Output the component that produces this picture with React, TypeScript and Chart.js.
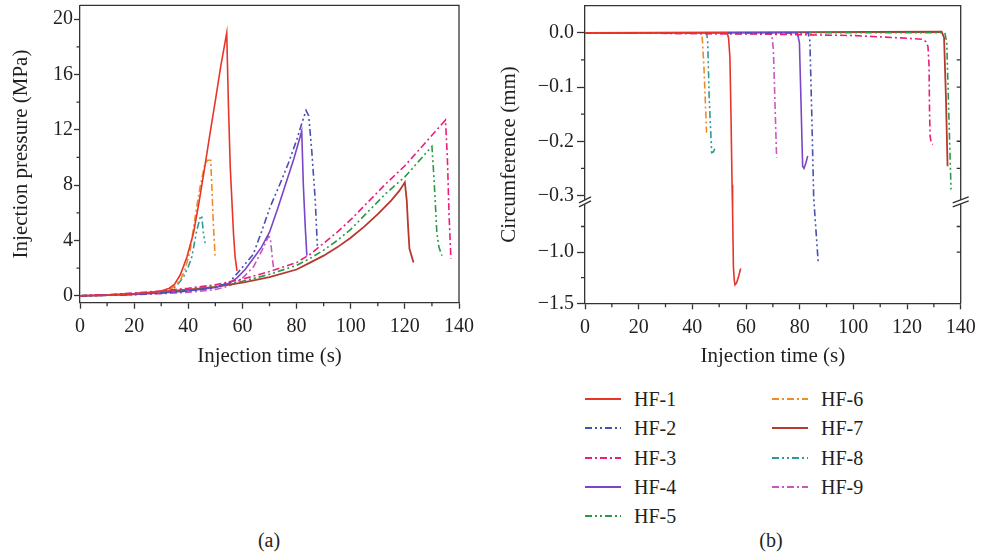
import React, { useEffect, useRef } from 'react';
import { Chart, registerables, LinearScale } from 'chart.js';

Chart.register(...registerables);

// ---------------- data ----------------
const SERIES_NAMES = ['HF-1', 'HF-2', 'HF-3', 'HF-4', 'HF-5', 'HF-6', 'HF-7', 'HF-8', 'HF-9'];

// Panel (a): injection time (s), injection pressure (MPa)
const HF1_PRESSURE = [[0, 0], [10, 0.05], [20, 0.15], [25, 0.22], [30, 0.35], [33, 0.55], [35, 0.85], [37, 1.5], [38, 2.0], [39.5, 2.8], [42, 4.6], [44, 6.8], [46, 9.2], [48, 11.7], [50, 14.1], [52, 16.6], [54.2, 19.0], [54.8, 14], [55.5, 9.3], [56.7, 4.5], [57.3, 2.8], [58, 1.8]];
const HF2_PRESSURE = [[0, 0], [10, 0.04], [20, 0.1], [30, 0.2], [40, 0.35], [50, 0.6], [55, 0.95], [58, 1.6], [61, 2.3], [64, 3.0], [67, 4.6], [70.2, 6.4], [73.9, 8.1], [77, 9.6], [80.1, 11.3], [82, 12.5], [83.5, 13.4], [84.5, 13.0], [85.6, 10.5], [86.9, 6.9], [87.7, 3.5]];
const HF3_PRESSURE = [[0, 0], [10, 0.08], [20, 0.2], [30, 0.35], [40, 0.55], [50, 0.8], [60, 1.2], [70, 1.75], [80, 2.4], [85, 3.0], [90, 3.8], [95, 4.6], [100, 5.5], [107, 6.9], [113, 8.1], [120, 9.4], [125, 10.5], [130, 11.6], [135, 12.7], [135.7, 10], [136.3, 6], [137, 2.7]];
const HF4_PRESSURE = [[0, 0], [10, 0.04], [20, 0.1], [30, 0.2], [40, 0.35], [50, 0.6], [55, 0.9], [58, 1.3], [61, 1.9], [64, 2.7], [67, 3.5], [70, 4.6], [73, 6.3], [76, 8.1], [79, 9.9], [81.9, 11.9], [82.5, 8], [83.2, 5], [83.8, 2.9]];
const HF5_PRESSURE = [[0, 0], [10, 0.05], [20, 0.15], [30, 0.3], [40, 0.45], [50, 0.7], [60, 1.05], [70, 1.55], [80, 2.2], [85, 2.7], [90, 3.3], [95, 4.0], [100, 4.8], [107, 6.2], [113, 7.4], [120, 8.6], [125, 9.7], [130, 10.8], [130.6, 9], [131.2, 6.9], [131.8, 4.6], [132.6, 3.5], [133.7, 2.9]];
const HF6_PRESSURE = [[0, 0], [10, 0.05], [20, 0.13], [30, 0.3], [34, 0.55], [37, 1.1], [39, 2.0], [40.7, 3.3], [42, 5.0], [43.1, 6.4], [44.4, 7.9], [46.2, 9.6], [47.2, 9.8], [48.3, 9.8], [48.7, 7.9], [49.3, 5.0], [49.9, 2.9]];
const HF7_PRESSURE = [[0, 0], [10, 0.05], [20, 0.15], [30, 0.3], [40, 0.45], [50, 0.65], [60, 0.95], [70, 1.35], [80, 1.9], [85, 2.4], [90, 2.9], [95, 3.5], [100, 4.2], [105, 5.0], [110, 5.9], [115, 6.9], [118, 7.6], [120, 8.2], [120.7, 6.9], [121.2, 5], [121.7, 3.4], [123.2, 2.4]];
const HF8_PRESSURE = [[0, 0], [10, 0.04], [20, 0.1], [30, 0.25], [34, 0.45], [36, 0.8], [38.2, 1.35], [40, 2.1], [41.3, 2.8], [43.1, 4.7], [44.6, 5.8], [45, 5.7], [45.6, 4.5], [46.2, 3.8]];
const HF9_PRESSURE = [[0, 0], [10, 0.03], [20, 0.08], [30, 0.15], [40, 0.25], [50, 0.45], [55, 0.7], [58, 1.0], [60.4, 1.35], [64.1, 2.1], [67.8, 3.5], [69.6, 4.3], [70.3, 4.2], [71, 2.8], [71.5, 2.0]];

// Panel (b): injection time (s), circumference (mm)
const HF1_CIRC = [[0, 0], [53, 0], [53.5, -0.01], [54, -0.045], [54.4, -0.15], [54.8, -0.28], [55, -0.6], [55.3, -1.14], [55.6, -1.27], [55.9, -1.32], [56.5, -1.3], [57.2, -1.24], [58, -1.16]];
const HF2_CIRC = [[0, 0], [83.2, 0], [83.8, -0.015], [84.5, -0.15], [85.2, -0.3], [85.3, -0.5], [86.1, -0.8], [86.9, -1.1]];
const HF3_CIRC = [[0, 0], [60, -0.002], [100, -0.005], [120, -0.01], [125.5, -0.012], [127, -0.016], [127.8, -0.025], [128.2, -0.06], [128.4, -0.15], [128.6, -0.19], [129, -0.203], [129.6, -0.206]];
const HF4_CIRC = [[0, 0], [79.1, 0], [79.9, -0.018], [80.5, -0.13], [81.1, -0.246], [81.6, -0.25], [82.3, -0.24], [83, -0.227]];
const HF5_CIRC = [[0, 0], [134.1, 0], [134.8, -0.018], [135.4, -0.12], [136.4, -0.289]];
const HF6_CIRC = [[0, 0], [43.3, 0], [43.7, -0.01], [44.3, -0.06], [45.3, -0.184]];
const HF7_CIRC = [[0, 0], [132.9, 0.002], [133.8, -0.009], [134.5, -0.12], [135.1, -0.246]];
const HF8_CIRC = [[0, 0], [45.3, 0], [45.7, -0.014], [46.3, -0.123], [47.2, -0.221], [47.8, -0.22], [48.8, -0.209]];
const HF9_CIRC = [[0, 0], [69.6, -0.002], [70.2, -0.031], [71.4, -0.23]];

const PRESSURE_SERIES = [HF1_PRESSURE, HF2_PRESSURE, HF3_PRESSURE, HF4_PRESSURE, HF5_PRESSURE, HF6_PRESSURE, HF7_PRESSURE, HF8_PRESSURE, HF9_PRESSURE];
const CIRC_SERIES = [HF1_CIRC, HF2_CIRC, HF3_CIRC, HF4_CIRC, HF5_CIRC, HF6_CIRC, HF7_CIRC, HF8_CIRC, HF9_CIRC];

// Tick labels / axis values
const X_TICKS = [0, 20, 40, 60, 80, 100, 120, 140];
const X_MINOR = [10, 30, 50, 70, 90, 110, 130];
const Y_TICKS_A = [0, 4, 8, 12, 16, 20];
const Y_MINOR_A = [2, 6, 10, 14, 18];
const Y_TICKS_B = [0, -0.1, -0.2, -0.3, -1.0, -1.5];
const Y_MINOR_B = [-0.05, -0.15, -0.25, -0.75, -1.25];
const Y_RIGHT_B = [-0.05, -0.1, -0.2, -0.25, -0.75, -1.0];
const BREAK = { upperMin: -0.31, upperMax: 0.05, lowerMin: -1.5, lowerMax: -0.5 };
const BREAK_GAP_VALUE = -0.4;

// ---------------- styles ----------------
const FONT = "'Liberation Serif', 'Times New Roman', serif";
const TEXT = '#231f20';
const AXIS = '#333333';
const AXIS_W = 1.3;
const COLORS = ['#e8352a', '#4a4fb6', '#ec1e7a', '#7a45c6', '#2a9a48', '#f28a26', '#b6392f', '#2c9c96', '#c858c0'];
const SOLID: number[] = [];
const DASH_DOT = [7, 3, 2, 3];
const DASH_DOT_DOT = [7, 3, 2, 3, 2, 3];
const DASHES = [SOLID, DASH_DOT_DOT, DASH_DOT, SOLID, DASH_DOT_DOT, DASH_DOT, SOLID, DASH_DOT_DOT, DASH_DOT];
const UPPER_SPLIT = 0.656;

// ---------------- broken scale ----------------
class BrokenLinearScale extends LinearScale {
  static id = 'brokenLinear';
  static defaults = {};
  breakPixel() {
    return this.top + (this.bottom - this.top) * UPPER_SPLIT;
  }
  getPixelForValue(value: number) {
    if (value === null || value === undefined || isNaN(value)) return NaN;
    const top = this.top;
    const bottom = this.bottom;
    const bp = this.breakPixel();
    if (value >= BREAK.upperMin) {
      return bp - ((value - BREAK.upperMin) / (BREAK.upperMax - BREAK.upperMin)) * (bp - top);
    }
    if (value <= BREAK.lowerMax) {
      return bottom - ((value - BREAK.lowerMin) / (BREAK.lowerMax - BREAK.lowerMin)) * (bottom - bp);
    }
    return bp;
  }
  getValueForPixel(pixel: number) {
    const top = this.top;
    const bottom = this.bottom;
    const bp = this.breakPixel();
    if (pixel <= bp) return BREAK.upperMin + ((bp - pixel) / (bp - top)) * (BREAK.upperMax - BREAK.upperMin);
    return BREAK.lowerMin + ((bottom - pixel) / (bottom - bp)) * (BREAK.lowerMax - BREAK.lowerMin);
  }
}
Chart.register(BrokenLinearScale as any);

// ---------------- decoration plugin ----------------
function makeDecor(cfg: { minorX: number[]; minorY: number[]; rightY: number[]; minorLen: number; breakValue?: number }) {
  return {
    id: 'decor',
    afterDraw(chart: any) {
      const { ctx, chartArea: a } = chart;
      const xs = chart.scales.x;
      const ys = chart.scales.y;
      ctx.save();
      ctx.strokeStyle = AXIS;
      ctx.lineWidth = AXIS_W;
      ctx.beginPath();
      ctx.moveTo(a.left, a.top);
      ctx.lineTo(a.right, a.top);
      ctx.lineTo(a.right, a.bottom);
      for (const v of cfg.minorX) {
        const p = xs.getPixelForValue(v);
        ctx.moveTo(p, a.bottom);
        ctx.lineTo(p, a.bottom + cfg.minorLen);
      }
      for (const v of cfg.minorY) {
        const p = ys.getPixelForValue(v);
        ctx.moveTo(a.left, p);
        ctx.lineTo(a.left - cfg.minorLen, p);
      }
      for (const v of cfg.rightY) {
        const p = ys.getPixelForValue(v);
        ctx.moveTo(a.right, p);
        ctx.lineTo(a.right - cfg.minorLen, p);
      }
      ctx.stroke();
      if (cfg.breakValue !== undefined) {
        const yc = ys.getPixelForValue(cfg.breakValue);
        const sides: [number, number][] = [[a.left, 6], [a.right, 8]];
        for (const [x0, hw] of sides) {
          ctx.beginPath();
          ctx.moveTo(x0 - hw, yc + 2);
          ctx.lineTo(x0 + hw, yc - 4);
          ctx.lineTo(x0 + hw, yc);
          ctx.lineTo(x0 - hw, yc + 6);
          ctx.closePath();
          ctx.fillStyle = '#ffffff';
          ctx.fill();
          ctx.beginPath();
          ctx.moveTo(x0 - hw, yc + 2);
          ctx.lineTo(x0 + hw, yc - 4);
          ctx.moveTo(x0 - hw, yc + 6);
          ctx.lineTo(x0 + hw, yc);
          ctx.stroke();
        }
      }
      ctx.restore();
    },
  };
}

function makeDatasets(series: number[][][]) {
  return series.map((pts, i) => ({
    label: SERIES_NAMES[i],
    data: pts.map(([x, y]) => ({ x, y })),
    borderColor: COLORS[i],
    borderWidth: i === 6 ? 1.8 : 1.6,
    borderDash: DASHES[i],
    pointRadius: 0,
    fill: false,
    tension: 0,
  }));
}

const tickFont = { family: FONT, size: 20 };
const titleFont = { family: FONT, size: 21 };

function xScale(height: number) {
  return {
    type: 'linear',
    min: 0,
    max: 140,
    afterBuildTicks: (s: any) => {
      s.ticks = X_TICKS.map((value) => ({ value }));
    },
    afterFit: (s: any) => {
      s.height = height;
      s.paddingLeft = 0;
      s.paddingRight = 0;
    },
    ticks: { font: tickFont, color: TEXT, padding: 6, maxRotation: 0, autoSkip: false, callback: (v: any) => String(v) },
    grid: { display: true, drawOnChartArea: false, drawTicks: true, tickLength: 6, tickColor: AXIS, tickWidth: AXIS_W },
    border: { display: true, color: AXIS, width: AXIS_W },
    title: { display: true, text: 'Injection time (s)', font: titleFont, color: TEXT, padding: { top: 0, bottom: 10.7 } },
  };
}

export default function App() {
  const refA = useRef<HTMLCanvasElement>(null);
  const refB = useRef<HTMLCanvasElement>(null);

  useEffect(() => {
    const common = {
      responsive: false,
      animation: false,
      devicePixelRatio: 1,
      events: [],
    };
    const chartA = new Chart(refA.current as HTMLCanvasElement, {
      type: 'line',
      data: { datasets: makeDatasets(PRESSURE_SERIES) as any },
      plugins: [makeDecor({ minorX: X_MINOR, minorY: Y_MINOR_A, rightY: [], minorLen: 3.5 }) as any],
      options: {
        ...common,
        layout: { padding: { top: 5.3, right: 31, left: 0, bottom: 0 } },
        plugins: { legend: { display: false }, tooltip: { enabled: false } },
        scales: {
          x: xScale(77.3) as any,
          y: {
            type: 'linear',
            min: -0.5,
            max: 21,
            afterBuildTicks: (s: any) => {
              s.ticks = Y_TICKS_A.map((value) => ({ value }));
            },
            afterFit: (s: any) => {
              s.width = 80;
              s.paddingTop = 0;
              s.paddingBottom = 0;
            },
            ticks: { font: tickFont, color: TEXT, padding: 1, autoSkip: false, callback: (v: any) => String(v) },
            grid: { display: true, drawOnChartArea: false, drawTicks: true, tickLength: 6, tickColor: AXIS, tickWidth: AXIS_W },
            border: { display: true, color: AXIS, width: AXIS_W },
            title: { display: true, text: 'Injection pressure (MPa)', font: titleFont, color: TEXT, padding: { top: 9, bottom: 0 } },
          } as any,
        },
      } as any,
    });

    const chartB = new Chart(refB.current as HTMLCanvasElement, {
      type: 'line',
      data: { datasets: makeDatasets(CIRC_SERIES) as any },
      plugins: [makeDecor({ minorX: X_MINOR, minorY: Y_MINOR_B, rightY: Y_RIGHT_B, minorLen: 4, breakValue: BREAK_GAP_VALUE }) as any],
      options: {
        ...common,
        layout: { padding: { top: 5.7, right: 20.3, left: 0, bottom: 0 } },
        plugins: { legend: { display: false }, tooltip: { enabled: false } },
        scales: {
          x: xScale(76.7) as any,
          y: {
            type: 'brokenLinear',
            min: BREAK.lowerMin,
            max: BREAK.upperMax,
            afterBuildTicks: (s: any) => {
              s.ticks = Y_TICKS_B.map((value) => ({ value }));
            },
            afterFit: (s: any) => {
              s.width = 95;
              s.paddingTop = 0;
              s.paddingBottom = 0;
            },
            ticks: {
              font: tickFont,
              color: TEXT,
              padding: 3,
              autoSkip: false,
              callback: (v: any) => (v === 0 ? '0.0' : '\u2212' + Math.abs(v).toFixed(1)),
            },
            grid: { display: true, drawOnChartArea: false, drawTicks: true, tickLength: 8, tickColor: AXIS, tickWidth: AXIS_W },
            border: { display: true, color: AXIS, width: AXIS_W },
            title: { display: true, text: 'Circumference (mm)', font: titleFont, color: TEXT, padding: { top: 6.6, bottom: 0 } },
          } as any,
        },
      } as any,
    });

    return () => {
      chartA.destroy();
      chartB.destroy();
    };
  }, []);

  const legendCols = [
    { sampleX: 585, textX: 634, items: [0, 1, 2, 3, 4] },
    { sampleX: 771.7, textX: 821, items: [5, 6, 7, 8] },
  ];
  const rowY0 = 399.3;
  const rowStep = 29.1;

  return (
    <div style={{ position: 'fixed', left: 0, top: 0, width: 981, height: 556, background: '#ffffff', fontFamily: FONT, color: TEXT }}>
      <canvas ref={refA} width={490} height={380} style={{ position: 'absolute', left: 0, top: 0 }} />
      <canvas ref={refB} width={491} height={380} style={{ position: 'absolute', left: 490, top: 0 }} />
      {legendCols.map((col) =>
        col.items.map((idx, r) => {
          const cy = rowY0 + r * rowStep;
          return (
            <React.Fragment key={SERIES_NAMES[idx]}>
              <svg style={{ position: 'absolute', left: col.sampleX, top: cy - 5 }} width={36} height={10}>
                <line
                  x1={0}
                  y1={5}
                  x2={36}
                  y2={5}
                  stroke={COLORS[idx]}
                  strokeWidth={idx === 6 ? 2.2 : 1.8}
                  strokeDasharray={DASHES[idx].length ? DASHES[idx].join(' ') : undefined}
                />
              </svg>
              <div style={{ position: 'absolute', left: col.textX, top: cy - 12, height: 24, lineHeight: '24px', fontSize: 20, whiteSpace: 'nowrap' }}>
                {SERIES_NAMES[idx]}
              </div>
            </React.Fragment>
          );
        })
      )}
      <div style={{ position: 'absolute', left: 239, top: 528, width: 60, textAlign: 'center', lineHeight: '24px', fontSize: 20 }}>(a)</div>
      <div style={{ position: 'absolute', left: 741, top: 528, width: 60, textAlign: 'center', lineHeight: '24px', fontSize: 20 }}>(b)</div>
    </div>
  );
}
